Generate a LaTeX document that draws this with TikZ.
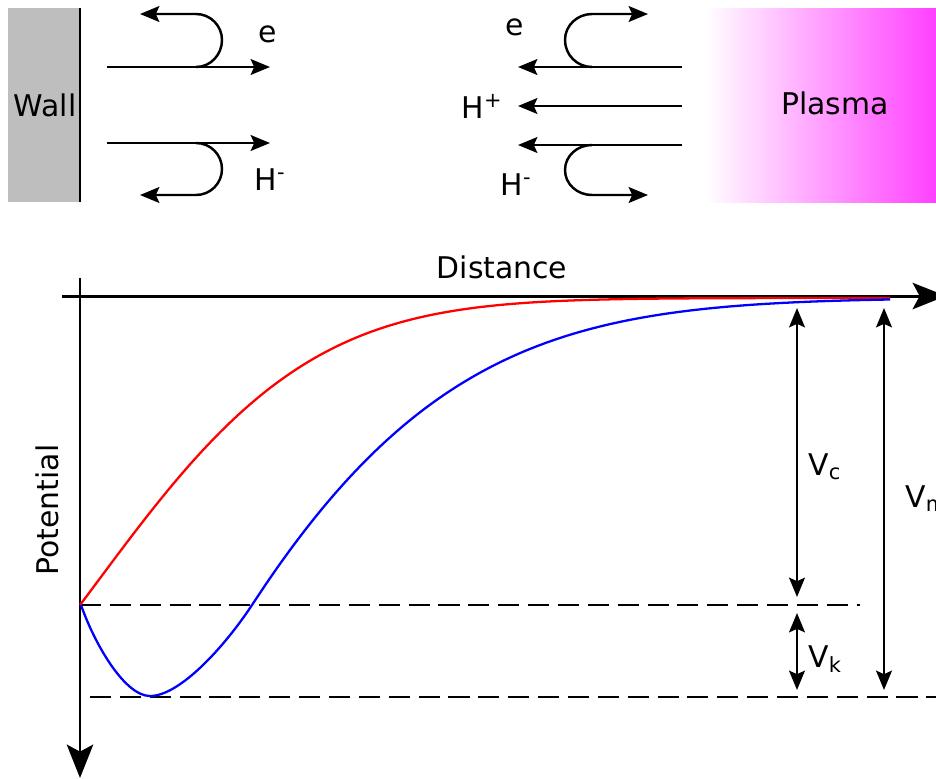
\documentclass[tikz,border=0pt]{standalone}
\usepackage{fontspec}
\setmainfont{DejaVu Sans}
\usetikzlibrary{arrows.meta}
\definecolor{wallgray}{RGB}{190,190,190}
\definecolor{plasma}{RGB}{255,64,255}
\begin{document}
\begin{tikzpicture}[x=0.02cm,y=-0.02cm,font=\fontsize{17}{20}\selectfont,
	flow/.style={line width=1.4pt,-{Stealth[length=11pt,width=9pt,inset=2pt]}},
	axis/.style={line width=1.7pt,-{Stealth[length=19pt,width=15pt,inset=4pt]}},
	gap/.style={line width=1.4pt,{Stealth[length=11pt,width=9pt,inset=2pt]}-{Stealth[length=11pt,width=9pt,inset=2pt]}},
	level/.style={line width=1.2pt,dash pattern=on 12pt off 5pt},
	curve/.style={line width=1.3pt}]
	\useasboundingbox (0,0) rectangle (936,778);
	% wall and plasma
	\fill[wallgray] (8,8) rectangle (80,202);
	\draw[line width=1.4pt] (80,8) -- (80,202);
	\shade[left color=white,right color=plasma] (705,8) rectangle (936,202);
	\node (wall) at (45,105) {Wall};
	\node (plasma) at (835,103) {Plasma};
	% fluxes at the wall
	\path
	(107,67) coordinate (eL0) (270,67) coordinate (eL1) (196,67) coordinate (eLr) (140,14) coordinate (eLb)
	(107,143) coordinate (hL0) (270,143) coordinate (hL1) (196,143) coordinate (hLr) (140,195) coordinate (hLb)
	(682,67) coordinate (eR0) (518,67) coordinate (eR1) (592,67) coordinate (eRr) (648,14) coordinate (eRb)
	(682,106) coordinate (pR0) (518,106) coordinate (pR1)
	(682,145) coordinate (hR0) (518,145) coordinate (hR1) (592,145) coordinate (hRr) (648,195) coordinate (hRb)
	;
	\draw[flow] (eL0) -- (eL1);
	\draw[flow] (eLr) to[out=0,in=-90] (222,40) to[out=90,in=0] (196,14) -- (eLb);
	\draw[flow] (hL0) -- (hL1);
	\draw[flow] (hLr) to[out=0,in=90] (222,169) to[out=-90,in=0] (196,195) -- (hLb);
	\draw[flow] (eR0) -- (eR1);
	\draw[flow] (eRr) to[out=180,in=-90] (565,40) to[out=90,in=180] (592,14) -- (eRb);
	\draw[flow] (pR0) -- (pR1);
	\draw[flow] (hR0) -- (hR1);
	\draw[flow] (hRr) to[out=180,in=90] (565,170) to[out=-90,in=180] (592,195) -- (hRb);
	\node (eL) at (268,34) {e};
	\node (hL) at (270,180) {H\textsuperscript{-}};
	\node (eR) at (515,27) {e};
	\node (pR) at (482,106) {H\textsuperscript{+}};
	\node (hR) at (516,185) {H\textsuperscript{-}};
	% potential profile
	\path
	(80,278) coordinate (vtop) (80,778) coordinate (vbot)
	(62,296) coordinate (hlft) (946,296) coordinate (hrgt)
	(81,605) coordinate (W)
	(150,696) coordinate (M)
	(252,605) coordinate (X)
	(890,298) coordinate (P)
	;
	\draw[axis] (vtop) -- (vbot);
	\draw[axis] (hlft) -- (hrgt);
	\node (dist) at (502,267) {Distance};
	\node[rotate=90] (pot) at (47,510) {Potential};
	\draw[level] (80,605) -- (860,605);
	\draw[level] (90,697) -- (936,697);
	\draw[red,curve] plot[domain=0:810,samples=140] ({80+\x},{298+307*exp(-\x/230-(\x/300)^2)});
	\draw[blue,curve] (W) .. controls (95,645) and (125,696) .. (M)
		.. controls (180,696) and (225,646) .. (X)
		-- plot[domain=0:638,samples=120] ({252+\x},{298+307*exp(-\x/200-(\x/436)^2)});
	\draw[gap] (797,308) -- (797,597);
	\draw[gap] (797,613) -- (797,690);
	\draw[gap] (884,308) -- (884,690);
	\node[anchor=base west,inner sep=0pt] (Vc) at (808,475) {V\textsubscript{c}};
	\node[anchor=base west,inner sep=0pt] (Vk) at (808,667) {V\textsubscript{k}};
	\node[anchor=base west,inner sep=0pt] (Vm) at (905,507) {V\textsubscript{m}};
\end{tikzpicture}
\end{document}
